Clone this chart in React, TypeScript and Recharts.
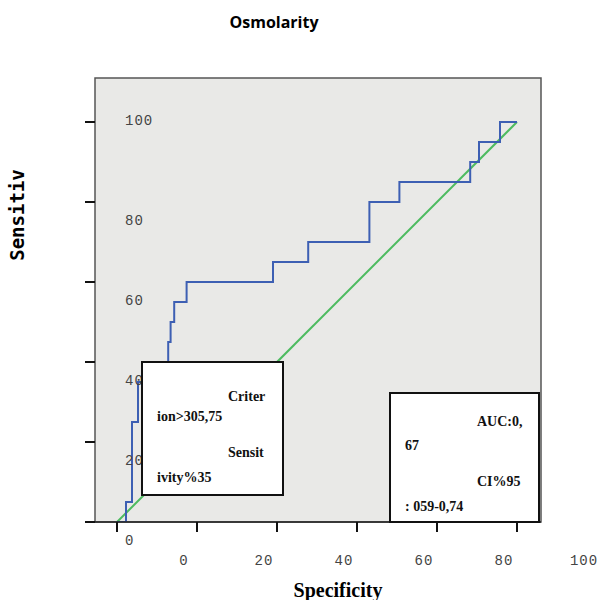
import React from 'react';
import { LineChart, Line, XAxis, YAxis, ReferenceArea } from 'recharts';

// ROC curve corner points (1 - specificity, sensitivity), drawn as stepAfter
const rocX = [0, 2.25, 3.75, 5.25, 12.8, 13.4, 14.3, 17.4, 39, 47.8, 63.1, 70.6, 88.3, 90.5, 95.75, 100];
const rocY = [0, 5, 25, 35, 45, 50, 55, 60, 65, 70, 80, 85, 90, 95, 100, 100];
const refX = [0, 100];
const refY = [0, 100];
const ticks = [0, 20, 40, 60, 80, 100];

const rocData = rocX.map((x, i) => ({ x, y: rocY[i] }));
const refData = refX.map((x, i) => ({ x, y: refY[i] }));

const tickFont = {
  fontFamily: '"Liberation Mono", monospace',
  fontSize: 14,
  letterSpacing: 1,
  fill: '#444',
};

const YTick = (props: any) => {
  const { x, y, payload } = props;
  const dy = payload.value === 100 ? -2 : 18;
  return (
    <text x={x + 42} y={y + dy} dy="0.35em" textAnchor="start" {...tickFont}>
      {payload.value}
    </text>
  );
};

const XTick = (props: any) => {
  const { x, y, payload } = props;
  return (
    <text x={x + 67} y={y + 26} dy="0.35em" textAnchor="middle" {...tickFont}>
      {payload.value}
    </text>
  );
};

const boxText: React.CSSProperties = {
  position: 'absolute',
  fontFamily: '"Liberation Serif", serif',
  fontWeight: 700,
  fontSize: 14,
  lineHeight: '16px',
  color: '#111',
  whiteSpace: 'nowrap',
};

const box: React.CSSProperties = {
  position: 'absolute',
  background: '#fff',
  border: '2px solid #111',
  boxSizing: 'border-box',
};

export default function App() {
  return (
    <div style={{ position: 'relative', width: 605, height: 600, background: '#fff' }}>
      <style>{'body{margin:0}'}</style>
      <LineChart width={605} height={600} margin={{ top: 78, right: 64, bottom: 48, left: 35 }}>
        <ReferenceArea
          x1={-5.5}
          x2={106}
          y1={0}
          y2={111}
          fill="#e9e9e7"
          fillOpacity={1}
          stroke="#555"
          strokeWidth={1.5}
        />
        <XAxis
          dataKey="x"
          type="number"
          domain={[-5.5, 106]}
          ticks={ticks}
          allowDataOverflow
          height={30}
          axisLine={{ stroke: '#222', strokeWidth: 1.5 }}
          tickLine={{ stroke: '#111', strokeWidth: 2 }}
          tickSize={10}
          tick={<XTick />}
        />
        <YAxis
          dataKey="y"
          type="number"
          domain={[0, 111]}
          ticks={ticks}
          allowDataOverflow
          width={60}
          axisLine={false}
          tickLine={{ stroke: '#111', strokeWidth: 2 }}
          tickSize={10}
          tick={<YTick />}
        />
        <Line
          data={refData}
          dataKey="y"
          type="linear"
          stroke="#4dbb60"
          strokeWidth={2}
          dot={false}
          isAnimationActive={false}
        />
        <Line
          data={rocData}
          dataKey="y"
          type="stepAfter"
          stroke="#3d5fb3"
          strokeWidth={2}
          dot={false}
          isAnimationActive={false}
        />
      </LineChart>

      <div
        style={{
          position: 'absolute',
          left: 274,
          top: 22,
          transform: 'translate(-50%, -50%)',
          fontFamily: '"Open Sans", sans-serif',
          fontWeight: 700,
          fontSize: 16,
          whiteSpace: 'nowrap',
        }}
      >
        Osmolarity
      </div>
      <div
        style={{
          position: 'absolute',
          left: 338,
          top: 590,
          transform: 'translate(-50%, -50%)',
          fontFamily: '"Liberation Serif", serif',
          fontWeight: 700,
          fontSize: 20,
          whiteSpace: 'nowrap',
        }}
      >
        Specificity
      </div>
      <div
        style={{
          position: 'absolute',
          left: 17,
          top: 215,
          transform: 'translate(-50%, -50%) rotate(-90deg)',
          fontFamily: '"DejaVu Sans Mono", monospace',
          fontWeight: 700,
          fontSize: 19,
          whiteSpace: 'nowrap',
        }}
      >
        Sensitiv
      </div>

      <div style={{ ...box, left: 141, top: 361, width: 143, height: 135 }} />
      <div style={{ ...boxText, left: 228, top: 389 }}>Criter</div>
      <div style={{ ...boxText, left: 157, top: 409 }}>ion&gt;305,75</div>
      <div style={{ ...boxText, left: 228, top: 445 }}>Sensit</div>
      <div style={{ ...boxText, left: 157, top: 470 }}>ivity%35</div>

      <div style={{ ...box, left: 389, top: 392, width: 151, height: 131 }} />
      <div style={{ ...boxText, left: 477, top: 414 }}>AUC:0,</div>
      <div style={{ ...boxText, left: 405, top: 438 }}>67</div>
      <div style={{ ...boxText, left: 477, top: 474 }}>CI%95</div>
      <div style={{ ...boxText, left: 405, top: 499 }}>: 059-0,74</div>
    </div>
  );
}
